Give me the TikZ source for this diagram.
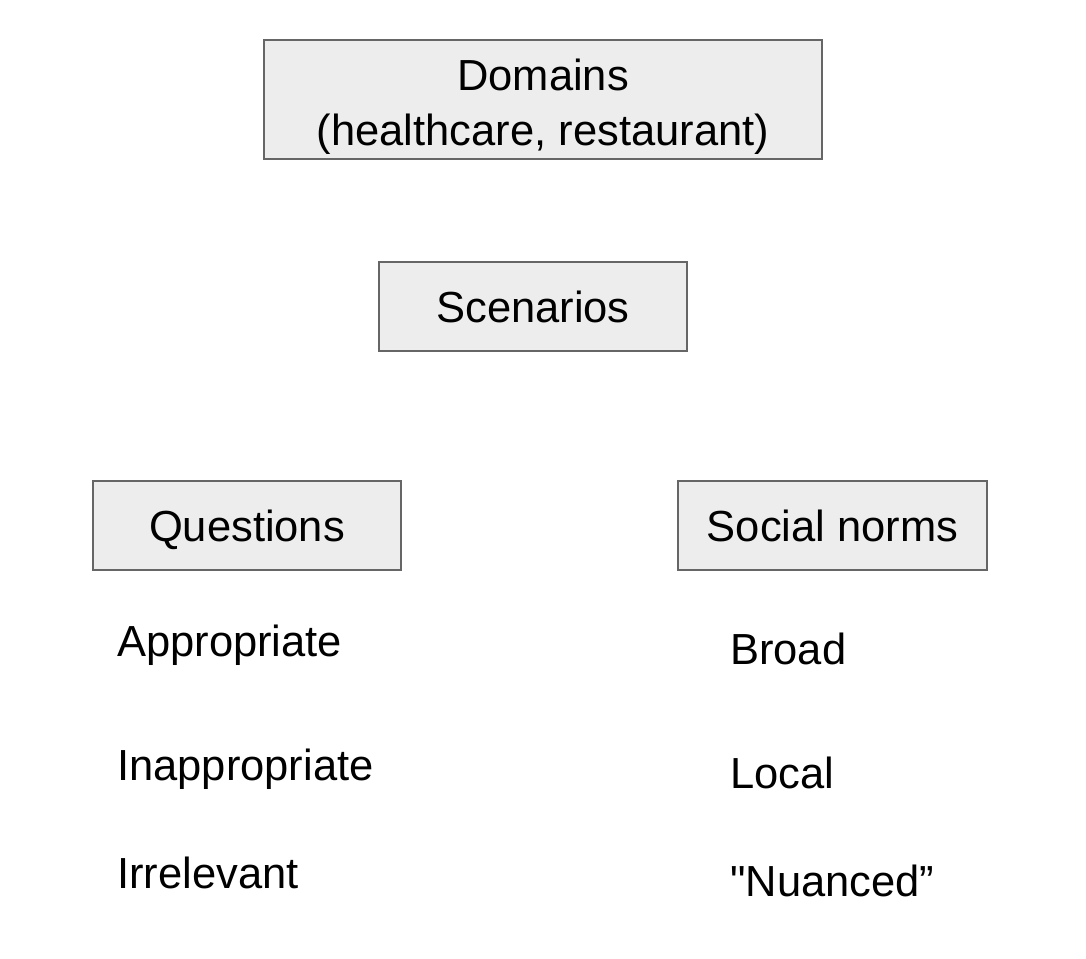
\documentclass[tikz,border=0pt]{standalone}
\usepackage{fontspec}
\setmainfont[Ligatures=TeXOff]{Liberation Sans}
\begin{document}
\begin{tikzpicture}[x=1pt,y=-1pt,
  box/.style={draw=black!60,line width=1.6pt,fill=black!7,inner sep=0pt,
    font=\fontsize{43.5}{55}\selectfont,text height=40pt,text depth=9pt},
  txt/.style={anchor=base,inner sep=0pt,font=\fontsize{43.5}{55}\selectfont},
  lbl/.style={anchor=base west,inner sep=0pt,font=\fontsize{43.5}{55}\selectfont}]
\useasboundingbox[fill=white] (0,0) rectangle (1086,958);
\node[draw=black!60,line width=1.6pt,fill=black!7,minimum width=558pt,minimum height=119pt] (dom) at (543,99.5) {};
\node[txt] (dom1) at (543,90.5) {Domains};
\node[txt] (dom2) at (543,145.5) {(healthcare, restaurant)};
\node[box,minimum width=308pt,minimum height=89pt] (scn) at (533,306.5) {Scenarios};
\node[box,minimum width=308pt,minimum height=89pt] (que) at (247,525.5) {Questions};
\node[box,minimum width=309pt,minimum height=89pt] (soc) at (832.5,525.5) {Social norms};
\node[lbl] (app) at (117,656) {Appropriate};
\node[lbl] (inapp) at (117,780) {Inappropriate};
\node[lbl] (irr) at (117,888) {Irrelevant};
\node[lbl] (brd) at (730,664) {Broad};
\node[lbl] (loc) at (730,788) {Local};
\node[lbl] (nua) at (730,896) {"Nuanced”};
\end{tikzpicture}
\end{document}
